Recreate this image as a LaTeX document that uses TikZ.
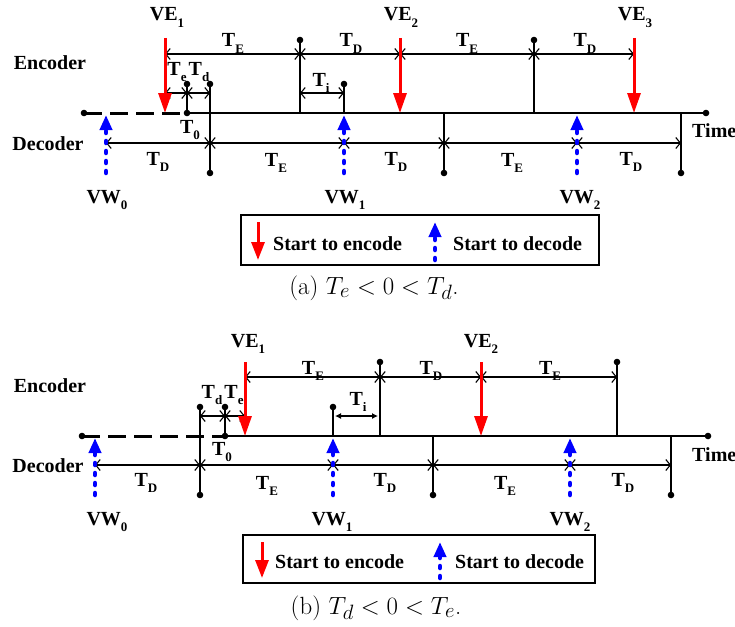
\documentclass[tikz,border=0pt]{standalone}
\usepackage{fontspec}
\newfontfamily\tlfont{Liberation Serif}
\usetikzlibrary{arrows.meta}
\definecolor{tlEncode}{RGB}{255,0,0}
\definecolor{tlDecode}{RGB}{0,0,255}
\newcommand{\tsub}[1]{\raisebox{-6pt}{\fontsize{13}{13}\selectfont #1}}

\begin{document}
\begin{tikzpicture}[x=1pt, y=-1pt,
  tlbl/.style={font=\tlfont\bfseries\fontsize{20}{24}\selectfont, inner sep=0pt, anchor=base},
  caplbl/.style={font=\fontsize{24.88}{28}\selectfont, inner sep=0pt, anchor=base},
  tline/.style={line width=1.4pt},
  axisline/.style={line width=1.6pt},
  waitline/.style={line width=3pt, dash pattern=on 18pt off 8pt},
  dimline/.style={line width=1.1pt,
    {Straight Barb[length=4.5pt,width=11pt]}-{Straight Barb[length=4.5pt,width=11pt]}},
  tidim/.style={line width=1.1pt, shorten <=2pt, shorten >=2pt,
    {Latex[length=6pt,width=6pt]}-{Latex[length=6pt,width=6pt]}},
  encarrow/.style={tlEncode, line width=3pt, -{Triangle[length=20pt,width=13pt]}},
  decarrow/.style={tlDecode, line width=4.5pt, line cap=round, shorten >=2pt,
    dash pattern=on 2pt off 8pt, -{Triangle[length=15pt,width=12pt]}},
  legendbox/.style={draw, line width=1.2pt, inner sep=0pt},
  ]
\useasboundingbox (0,0) rectangle (735,626);

%% Panel A: T_e < 0 < T_d
\begin{scope}
  \coordinate (aStart) at (84,113);
  \coordinate (aT0) at (187,113);
  \coordinate (aEnd) at (706,113);
  \coordinate (aP1) at (187,84);
  \coordinate (aP2) at (210,84);
  \coordinate (aP3) at (300,40);
  \coordinate (aP4) at (344,84);
  \coordinate (aP5) at (534,40);
  \coordinate (aB1) at (210,173);
  \coordinate (aB2) at (444,173);
  \coordinate (aB3) at (681,173);
  \coordinate (aE1) at (165,38);
  \coordinate (aE2) at (400,38);
  \coordinate (aE3) at (634,38);
  \coordinate (aW0) at (106,173);
  \coordinate (aW1) at (344,173);
  \coordinate (aW2) at (577,173);
  \coordinate (aU) at (0,54);
  \coordinate (aS) at (0,93);
  \coordinate (aL) at (0,143);
  % time axis and markers
  \draw[waitline] (aStart) -- (aT0);
  \draw[axisline] (aT0) -- (aEnd);
  \draw[tline] (aP1) -- (aT0);
  \draw[tline] (aP2) -- (aB1);
  \draw[tline] (aP3) -- (aP3 |- aT0);
  \draw[tline] (aP4) -- (aP4 |- aT0);
  \draw[tline] (aP5) -- (aP5 |- aT0);
  \draw[tline] (aB2 |- aT0) -- (aB2);
  \draw[tline] (aB3 |- aT0) -- (aB3);
  \foreach \p in {aStart,aT0,aEnd,aP1,aP2,aP3,aP4,aP5,aB1,aB2,aB3}
    \fill (\p) circle (3.3pt);
  % intervals
  \draw[dimline] (aE1 |- aU) -- (aP3 |- aU);
  \draw[dimline] (aP3 |- aU) -- (aE2 |- aU);
  \draw[dimline] (aE2 |- aU) -- (aP5 |- aU);
  \draw[dimline] (aP5 |- aU) -- (aE3 |- aU);
  \draw[dimline] (aE1 |- aS) -- (aP1 |- aS);
  \draw[dimline] (aP1 |- aS) -- (aP2 |- aS);
  \draw[dimline] (aP3 |- aS) -- (aP4 |- aS);
  \draw[dimline] (aW0 |- aL) -- (aP2 |- aL);
  \draw[dimline] (aP2 |- aL) -- (aW1 |- aL);
  \draw[dimline] (aW1 |- aL) -- (aB2 |- aL);
  \draw[dimline] (aB2 |- aL) -- (aW2 |- aL);
  \draw[dimline] (aW2 |- aL) -- (aB3 |- aL);
  % encode / decode instants
  \draw[encarrow] (aE1) -- (aE1 |- aT0);
  \draw[encarrow] (aE2) -- (aE2 |- aT0);
  \draw[encarrow] (aE3) -- (aE3 |- aT0);
  \draw[decarrow] (aW0) -- (aW0 |- aT0);
  \draw[decarrow] (aW1) -- (aW1 |- aT0);
  \draw[decarrow] (aW2) -- (aW2 |- aT0);
  % labels
  \node[tlbl] (aEnc) at (50,70) {Encoder};
  \node[tlbl] (aDec) at (48,150) {Decoder};
  \node[tlbl, anchor=base west] (aTime) at (692,137) {Time};
  \node[tlbl] (aVE1) at (167,21) {VE\tsub{1}};
  \node[tlbl] (aVE2) at (401,21) {VE\tsub{2}};
  \node[tlbl] (aVE3) at (635,21) {VE\tsub{3}};
  \node[tlbl] (aVW0) at (107,203) {VW\tsub{0}};
  \node[tlbl] (aVW1) at (345,203) {VW\tsub{1}};
  \node[tlbl] (aVW2) at (580,203) {VW\tsub{2}};
  \node[tlbl] (aTE1) at (233,47) {T\tsub{E}};
  \node[tlbl] (aTD1) at (351,47) {T\tsub{D}};
  \node[tlbl] (aTE2) at (467,47) {T\tsub{E}};
  \node[tlbl] (aTD2) at (585,47) {T\tsub{D}};
  \node[tlbl] (aTe) at (177,75) {T\tsub{e}};
  \node[tlbl] (aTd) at (199,75) {T\tsub{d}};
  \node[tlbl] (aTi) at (321,86) {T\tsub{i}};
  \node[tlbl] (aTzero) at (190,133) {T\tsub{0}};
  \node[tlbl] (aTD3) at (158,165) {T\tsub{D}};
  \node[tlbl] (aTE3) at (276,166) {T\tsub{E}};
  \node[tlbl] (aTD4) at (396,165) {T\tsub{D}};
  \node[tlbl] (aTE4) at (512,166) {T\tsub{E}};
  \node[tlbl] (aTD5) at (631,165) {T\tsub{D}};
  % legend
  \node[legendbox, minimum width=358pt, minimum height=50pt] (aLegend) at (420,240) {};
  \coordinate (aLE) at (258,222);
  \coordinate (aLW) at (435,260);
  \draw[encarrow, -{Triangle[length=18pt,width=13pt]}] (aLE) -- (258,260);
  \draw[decarrow, shorten >=0pt] (aLW) -- (435,222);
  \node[tlbl, anchor=base west] (aLEtxt) at (273,250) {Start to encode};
  \node[tlbl, anchor=base west] (aLWtxt) at (453,250) {Start to decode};
  \node[caplbl] (aCap) at (374,294) {(a) $T_e < 0 < T_d$.};
\end{scope}

%% Panel B: T_d < 0 < T_e
\begin{scope}[yshift=-323pt]
  \coordinate (bStart) at (82,113);
  \coordinate (bT0) at (225,113);
  \coordinate (bEnd) at (708,113);
  \coordinate (bP1) at (200,84);
  \coordinate (bP2) at (225,84);
  \coordinate (bP3) at (333,84);
  \coordinate (bP4) at (380,39);
  \coordinate (bP5) at (617,39);
  \coordinate (bB1) at (200,172);
  \coordinate (bB2) at (433,172);
  \coordinate (bB3) at (671,172);
  \coordinate (bE1) at (245,39);
  \coordinate (bE2) at (481,39);
  \coordinate (bW0) at (95,172);
  \coordinate (bW1) at (333,172);
  \coordinate (bW2) at (570,172);
  \coordinate (bU) at (0,54);
  \coordinate (bS) at (0,93);
  \coordinate (bL) at (0,142);
  % time axis and markers
  \draw[waitline] (bStart) -- (bT0);
  \draw[axisline] (bT0) -- (bEnd);
  \draw[tline] (bP1) -- (bB1);
  \draw[tline] (bP2) -- (bT0);
  \draw[tline] (bP3) -- (bP3 |- bT0);
  \draw[tline] (bP4) -- (bP4 |- bT0);
  \draw[tline] (bP5) -- (bP5 |- bT0);
  \draw[tline] (bB2 |- bT0) -- (bB2);
  \draw[tline] (bB3 |- bT0) -- (bB3);
  \foreach \p in {bStart,bT0,bEnd,bP1,bP2,bP3,bP4,bP5,bB1,bB2,bB3}
    \fill (\p) circle (3.3pt);
  % intervals
  \draw[dimline] (bE1 |- bU) -- (bP4 |- bU);
  \draw[dimline] (bP4 |- bU) -- (bE2 |- bU);
  \draw[dimline] (bE2 |- bU) -- (bP5 |- bU);
  \draw[dimline] (bP1 |- bS) -- (bP2 |- bS);
  \draw[dimline] (bP2 |- bS) -- (bE1 |- bS);
  \draw[tidim] (bP3 |- bS) -- (bP4 |- bS);
  \draw[dimline] (bW0 |- bL) -- (bP1 |- bL);
  \draw[dimline] (bP1 |- bL) -- (bW1 |- bL);
  \draw[dimline] (bW1 |- bL) -- (bB2 |- bL);
  \draw[dimline] (bB2 |- bL) -- (bW2 |- bL);
  \draw[dimline] (bW2 |- bL) -- (bB3 |- bL);
  % encode / decode instants
  \draw[encarrow] (bE1) -- (bE1 |- bT0);
  \draw[encarrow] (bE2) -- (bE2 |- bT0);
  \draw[decarrow] (bW0) -- (bW0 |- bT0);
  \draw[decarrow] (bW1) -- (bW1 |- bT0);
  \draw[decarrow] (bW2) -- (bW2 |- bT0);
  % labels
  \node[tlbl] (bEnc) at (50,69) {Encoder};
  \node[tlbl] (bDec) at (48,149) {Decoder};
  \node[tlbl, anchor=base west] (bTime) at (692,138) {Time};
  \node[tlbl] (bVE1) at (248,24) {VE\tsub{1}};
  \node[tlbl] (bVE2) at (481,24) {VE\tsub{2}};
  \node[tlbl] (bVW0) at (107,202) {VW\tsub{0}};
  \node[tlbl] (bVW1) at (332,202) {VW\tsub{1}};
  \node[tlbl] (bVW2) at (570,202) {VW\tsub{2}};
  \node[tlbl] (bTE1) at (313,51) {T\tsub{E}};
  \node[tlbl] (bTD1) at (431,51) {T\tsub{D}};
  \node[tlbl] (bTE2) at (550,51) {T\tsub{E}};
  \node[tlbl] (bTd) at (212,75) {T\tsub{d}};
  \node[tlbl] (bTe) at (234,75) {T\tsub{e}};
  \node[tlbl] (bTi) at (358,82) {T\tsub{i}};
  \node[tlbl] (bTzero) at (222,132) {T\tsub{0}};
  \node[tlbl] (bTD2) at (146,163) {T\tsub{D}};
  \node[tlbl] (bTE3) at (267,166) {T\tsub{E}};
  \node[tlbl] (bTD3) at (385,163) {T\tsub{D}};
  \node[tlbl] (bTE4) at (505,166) {T\tsub{E}};
  \node[tlbl] (bTD4) at (623,163) {T\tsub{D}};
  % legend
  \node[legendbox, minimum width=352pt, minimum height=48pt] (bLegend) at (419,236) {};
  \coordinate (bLE) at (262,219);
  \coordinate (bLW) at (440,255);
  \draw[encarrow, -{Triangle[length=18pt,width=13pt]}] (bLE) -- (262,255);
  \draw[decarrow, shorten >=0pt] (bLW) -- (440,219);
  \node[tlbl, anchor=base west] (bLEtxt) at (275,245) {Start to encode};
  \node[tlbl, anchor=base west] (bLWtxt) at (455,245) {Start to decode};
  \node[caplbl] (bCap) at (376,291) {(b) $T_d < 0 < T_e$.};
\end{scope}
\end{tikzpicture}
\end{document}
